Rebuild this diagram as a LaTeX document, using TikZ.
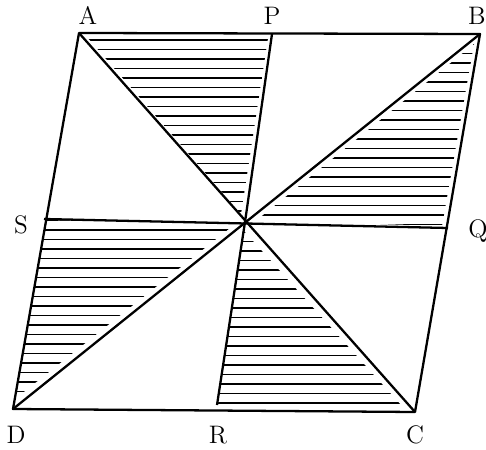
\documentclass[tikz,border=0pt]{standalone}
\usetikzlibrary{calc}
\begin{document}
\begin{tikzpicture}[x=0.02cm,y=-0.02cm,
  edge/.style={line width=1.3pt,line join=round},
  hatch/.style={line width=1.0pt},
  lbl/.style={font=\Large}]
\useasboundingbox (0,0) rectangle (486,449);
\coordinate (A) at (79,33);
\coordinate (B) at (480,34);
\coordinate (C) at (415,412);
\coordinate (D) at (13,409);
\coordinate (O) at (245,222);
\coordinate (P) at (272,34);
\coordinate (R) at (217,405);
\coordinate (S) at (44,219);
\coordinate (Q) at (448,228);
% hatching
\begin{scope}
  \clip ($(A)+(8,4)$) -- ($(P)+(-4,4)$) -- ($(O)+(-4,-8)$) -- cycle;
  \foreach \y in {40,49.5,...,222} \draw[hatch] (0,\y) -- (486,\y);
\end{scope}
\begin{scope}
  \clip ($(B)+(-6,10)$) -- ($(O)+(12,-2)$) -- ($(Q)+(-6,-2)$) -- cycle;
  \foreach \y in {44,53.5,...,228} \draw[hatch] (0,\y) -- (486,\y);
\end{scope}
\begin{scope}
  \clip ($(S)+(2,1)$) -- ($(O)+(-10,2)$) -- ($(D)+(2,-10)$) -- cycle;
  \foreach \y in {220.5,230,...,410} \draw[hatch] (0,\y) -- (486,\y);
\end{scope}
\begin{scope}
  \clip ($(O)+(-2,8)$) -- ($(R)+(1,-1)$) -- ($(C)+(-14,-7)$) -- cycle;
  \foreach \y in {232,241.5,...,410} \draw[hatch] (0,\y) -- (486,\y);
\end{scope}
% main lines
\draw[edge] (A) -- (B) -- (C) -- (D) -- cycle;
\draw[edge] (A) -- (C);
\draw[edge] (B) -- (D);
\draw[edge] (P) -- (O) -- (R);
\draw[edge] (S) -- (Q);
% labels
\node[lbl] (lA) at (88,15) {A};
\node[lbl] (lP) at (272,16) {P};
\node[lbl] (lB) at (477,16) {B};
\node[lbl] (lS) at (21,225) {S};
\node[lbl] (lQ) at (478,231) {Q};
\node[lbl] (lD) at (16,435) {D};
\node[lbl] (lR) at (218,435) {R};
\node[lbl] (lC) at (415,435) {C};
\end{tikzpicture}
\end{document}
